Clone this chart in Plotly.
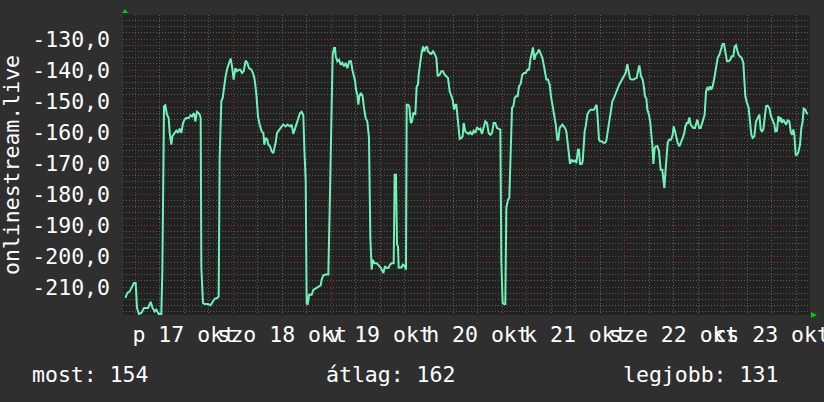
import pandas as pd
import plotly.graph_objects as go

# week of signal readings, hours counted from Fri 17 Oct 00:00
start = pd.Timestamp("2025-10-17 00:00")

hours = [
    -2.44, -1.95, -1.38, -0.97, -0.32, 0.09, 0.42, 0.91, 1.48, 2.13, 3.11, 3.77, 4.18, 4.75, 5.16, 5.73,
    6.38, 6.63, 7.04, 7.36, 7.77, 8.18, 8.43, 8.83, 9.08, 9.65, 10.06, 10.47, 10.88, 11.29, 11.69, 12.10,
    12.51, 13.08, 13.57, 13.90, 14.39, 14.72, 15.13, 15.53, 15.78, 16.03, 16.19, 16.60, 17.01, 17.82, 18.48,
    19.05, 19.46, 20.11, 20.44, 20.68, 21.09, 21.42, 21.75, 22.15, 22.56, 22.97, 23.38, 23.71, 24.12, 24.52,
    24.93, 25.34, 25.75, 26.16, 26.57, 27.06, 27.47, 27.87, 28.45, 28.85, 29.26, 29.67, 30.08, 30.49,
    30.98, 31.39, 31.63, 31.96, 32.37, 32.61, 33.02, 33.43, 33.84, 34.08, 34.41, 34.74, 35.23, 35.72, 36.29,
    36.86, 37.35, 37.92, 38.33, 38.74, 39.15, 39.56, 39.97, 40.38, 40.78, 41.19, 41.44, 41.77, 42.01, 42.26,
    42.58, 43.24, 43.64, 44.22, 44.87, 45.44, 45.69, 46.10, 46.67, 47.32, 47.73, 48.14, 48.38, 48.71, 48.96,
    49.12, 49.53, 49.94, 50.35, 50.75, 51.16, 51.57, 51.98, 52.47, 52.88, 53.21, 53.61, 53.86, 54.10, 54.43,
    54.68, 54.92, 55.33, 55.74, 56.07, 56.47, 56.88, 57.29, 57.62, 57.95, 58.19, 58.60, 59.17, 59.74, 60.23,
    60.81, 61.21, 61.62, 62.03, 62.44, 62.85, 63.26,
    63.34, 63.58, 63.91, 64.16, 64.40, 64.56, 65.22, 65.63, 66.04, 66.36, 66.53, 66.85, 67.18, 67.51, 67.83,
    68.16, 68.65, 68.98, 69.30, 69.47, 69.88, 70.12, 70.53, 70.86, 71.10, 71.51, 71.76, 72.08, 72.57, 72.98,
    73.39, 73.80, 74.13, 74.62, 75.02, 75.43, 75.84, 76.25, 76.66, 77.07, 77.39, 77.80, 78.13, 78.46, 78.70,
    79.03, 79.27, 79.52, 79.93, 80.25, 80.50, 80.91, 81.32, 81.73, 82.13, 82.54, 82.95, 83.36, 83.77, 84.18,
    84.59, 84.99, 85.40, 85.81, 86.22, 86.63, 87.04, 87.45, 87.85, 88.26, 88.67, 89.08, 89.49, 89.73, 90.06,
    90.39, 90.71, 90.96, 91.37, 91.69, 92.02, 92.35, 92.68, 93.00, 93.33, 93.74, 94.06, 94.47, 94.88, 95.29,
    95.70, 96.11, 96.52,
    96.92, 97.50, 97.82, 98.15, 98.56, 98.97, 99.38, 99.79, 100.19, 100.44, 100.77, 101.17, 101.58, 101.91,
    102.24, 102.65, 103.05, 103.46, 103.71, 104.03, 104.36, 104.69, 105.02, 105.34, 105.67, 106.00, 106.32,
    106.57, 106.98, 107.30, 107.71, 108.12, 108.53, 108.77, 109.02, 109.43, 109.67, 109.92, 110.16, 110.41,
    110.82, 111.22, 111.63, 112.04, 112.45, 112.86, 113.10, 113.35, 113.68, 113.92, 114.33, 114.74, 115.15,
    115.47, 115.80, 116.13, 116.54, 116.95, 117.35, 117.76, 118.17, 118.58, 118.99, 119.40, 119.81, 120.21,
    120.62, 120.95, 121.28, 121.69, 122.09, 122.50, 122.91, 123.24, 123.56, 123.97, 124.38, 124.71, 124.95,
    125.28, 125.53, 125.93, 126.26, 126.51, 126.75, 127.00, 127.32, 127.65, 127.98, 128.39, 128.79, 129.20,
    129.45, 129.69, 129.94, 130.18, 130.51, 130.84, 131.33,
    131.73, 131.98, 132.31, 132.55, 132.96, 133.37, 133.78, 134.19, 134.59, 134.84, 135.17, 135.49, 135.82,
    136.15, 136.47, 136.80, 137.21, 137.46, 137.78, 138.03, 138.27, 138.60, 138.93, 139.25, 139.58, 139.91,
    140.23, 140.56, 140.89, 141.21, 141.54, 141.95, 142.36, 142.77, 143.18, 143.58, 143.99, 144.32, 144.56,
    144.81, 145.05, 145.46, 145.87, 146.20, 146.61, 146.93, 147.26, 147.59, 147.91, 148.24, 148.65, 149.06,
    149.30, 149.55, 149.96, 150.37, 150.69, 151.02, 151.35, 151.76, 152.16, 152.57, 152.98, 153.31, 153.63,
    153.96, 154.29, 154.62, 155.02, 155.43, 155.84, 156.25, 156.66, 156.90, 157.31, 157.64, 157.88, 158.21,
    158.54, 158.86, 159.19, 159.52, 159.93, 160.34, 160.66, 160.99, 161.32, 161.56, 161.89, 162.22, 162.54,
    162.95, 163.28, 163.60, 163.85, 164.26, 164.59, 164.91,
]

signal = [
    -213.5, -211.9, -211.4, -210.3, -208.7, -208.7, -216.8, -218.7, -218.4, -216.8, -216.8, -214.8, -216.6, -217.9, -217.3, -218.7,
    -218.7, -205.0, -151.7, -151.4, -154.4, -155.5, -160.3, -164.1, -161.4, -160.3, -159.6, -160.3, -158.9, -160.3, -157.1, -156.0,
    -155.5, -155.5, -154.6, -155.0, -153.9, -156.6, -153.5, -153.9, -154.4, -155.5, -203.9, -215.2, -215.5, -215.5, -215.9,
    -214.6, -213.8, -213.5, -213.0, -168.2, -150.1, -149.0, -145.3, -142.0, -139.4, -137.7, -136.3, -138.8, -143.1, -139.4,
    -140.4, -139.9, -139.9, -141.0, -140.4, -137.0, -137.7, -139.4, -139.9, -141.0, -143.1, -147.7, -155.0, -157.6,
    -159.8, -160.3, -164.1, -161.9, -162.5, -164.1, -164.6, -166.2, -166.8, -165.2, -163.5, -160.3, -159.2, -158.5, -157.6,
    -158.2, -157.6, -158.2, -157.6, -160.6, -158.9, -157.1, -155.5, -153.9, -153.5, -154.6, -165.2, -175.9, -215.2, -215.7,
    -212.5, -212.5, -210.9, -210.5, -210.1, -209.5, -207.6, -206.2, -206.0, -206.0, -179.7, -148.0, -135.1, -132.9, -132.9,
    -135.6, -137.2, -136.7, -138.3, -137.7, -138.8, -137.7, -139.4, -137.2, -137.2, -139.9, -142.6, -143.4, -146.3, -148.0,
    -151.2, -148.5, -147.4, -148.5, -152.3, -155.5, -156.6, -161.9, -194.2, -204.4, -201.2, -202.3, -202.3, -203.3, -203.9,
    -205.5, -203.3, -203.9, -203.9, -202.8, -202.3, -202.3,
    -202.3, -173.8, -173.8, -196.3, -196.9, -203.7, -203.7, -202.8, -203.3, -204.4, -151.2, -151.2, -151.7, -157.1, -156.6,
    -153.9, -154.2, -145.3, -144.7, -141.5, -136.1, -135.1, -132.4, -134.0, -132.9, -132.4, -134.0, -134.5, -134.8, -134.0,
    -134.8, -136.1, -142.0, -141.5, -140.4, -140.4, -141.5, -142.0, -142.6, -146.9, -148.5, -149.6, -152.8, -151.2, -151.2,
    -156.6, -158.9, -162.2, -161.9, -161.4, -157.1, -159.8, -160.3, -160.6, -160.0, -160.9, -159.6, -160.3, -158.5, -159.2,
    -158.9, -160.6, -158.5, -156.6, -157.1, -160.3, -160.9, -160.3, -157.1, -157.1, -158.7, -158.9, -159.2, -201.7, -215.2,
    -215.5, -215.5, -184.5, -181.8, -181.3, -164.1, -152.3, -151.7, -149.0, -148.5, -148.5, -145.3, -144.5, -141.5, -141.0,
    -141.0, -139.9, -139.9,
    -136.1, -132.7, -136.7, -135.1, -134.5, -133.4, -134.5, -136.1, -138.8, -141.5, -143.1, -143.1, -144.7, -148.5,
    -151.2, -154.9, -157.4, -162.5, -162.5, -158.7, -158.2, -157.6, -158.2, -158.7, -159.8, -163.5, -167.3,
    -170.3, -168.9, -169.5, -169.2, -170.0, -165.7, -165.7, -170.3, -170.3, -169.5, -162.5, -159.8, -158.2,
    -154.4, -153.3, -152.8, -152.8, -152.8, -151.7, -151.2, -155.5, -162.5, -163.0, -163.0, -163.5, -163.5,
    -162.8, -159.8, -157.1, -153.9, -150.1, -149.0, -147.4, -146.3, -144.9, -143.9, -142.8, -142.0, -141.0,
    -138.1, -140.4, -142.8, -143.1, -143.1, -142.8, -142.6, -140.4, -138.5, -142.0, -143.1, -145.8, -148.5,
    -149.2, -152.8, -154.4, -157.1, -160.9, -164.1, -170.3, -165.2, -164.6, -164.6, -166.2, -172.2, -172.2,
    -175.9, -178.1, -173.2, -167.3, -163.5, -162.5, -162.5,
    -160.9, -158.2, -159.8, -161.4, -163.5, -164.6, -163.5, -161.9, -160.3, -158.2, -157.1, -157.1, -155.3,
    -157.6, -158.2, -158.7, -158.7, -157.1, -156.0, -157.6, -158.7, -158.7, -157.1, -155.5, -154.4, -146.9,
    -145.8, -146.3, -145.3, -146.3, -145.3, -142.6, -139.4, -136.1, -135.1, -133.4, -131.6, -131.6, -134.0,
    -135.1, -137.2, -137.2, -136.7, -135.6, -135.6, -132.4, -132.0, -133.8, -135.1, -135.6, -136.1, -137.7,
    -142.0, -148.5, -150.6, -152.3, -156.6, -160.9, -161.9, -161.4, -156.6, -155.5, -154.4, -159.2, -159.8,
    -159.2, -154.4, -151.7, -151.5, -152.3, -154.9, -156.6, -157.6, -159.8, -159.6, -154.9, -156.6, -155.3,
    -157.1, -156.0, -156.6, -157.6, -156.3, -156.6, -159.8, -160.9, -159.2, -160.9, -167.3, -167.3, -166.5,
    -164.1, -158.7, -156.6, -152.5, -152.8, -153.9, -154.2,
]

day_labels = ["p 17 okt", "szo 18 okt", "v 19 okt", "h 20 okt", "k 21 okt", "sze 22 okt", "cs 23 okt"]
label_hours = [12, 36, 60, 84, 108, 132, 156]

y_ticks = [-210, -200, -190, -180, -170, -160, -150, -140, -130]
y_tick_text = ["-210,0", "-200,0", "-190,0", "-180,0", "-170,0", "-160,0", "-150,0", "-140,0", "-130,0"]

stat_names = ["most", "átlag", "legjobb"]
stat_values = [154, 162, 131]
stat_x = [-0.1354, 0.293, 0.7245]

times = start + pd.to_timedelta(hours, unit="h")
label_times = start + pd.to_timedelta(label_hours, unit="h")
x_range = [start - pd.Timedelta(hours=3.015), start + pd.Timedelta(hours=165.4)]

FONT = "DejaVu Sans Mono"
FSIZE = 21.5
RED_GRID = "#8a2f2f"
GREY_GRID = "#5e5e5e"

fig = go.Figure()
fig.add_trace(go.Scatter(x=times, y=signal, mode="lines",
                         line=dict(color="#6ff2b8", width=2), hoverinfo="skip"))
# carries the day labels (placed at noon, between the midnight grid lines)
fig.add_trace(go.Scatter(x=label_times, y=[None] * len(label_times), xaxis="x2",
                         mode="markers", hoverinfo="skip"))

tick_font = dict(family=FONT, size=FSIZE, color="#ffffff")

fig.update_layout(
    width=824, height=402,
    margin=dict(l=123, r=14, t=15, b=87),
    paper_bgcolor="#2f2f2f", plot_bgcolor="#222222",
    showlegend=False,
    font=dict(family=FONT, color="#ffffff"),
    xaxis=dict(
        type="date", range=x_range, tick0=start, dtick=86400000,
        showticklabels=False, ticks="", zeroline=False, showline=False,
        showgrid=True, gridcolor=RED_GRID, gridwidth=1, griddash="1px,2px",
        minor=dict(tick0=start, dtick=21600000, showgrid=True,
                   gridcolor=GREY_GRID, gridwidth=1, griddash="1px,2px"),
        automargin=False,
    ),
    xaxis2=dict(
        type="date", overlaying="x", matches="x", anchor="y", side="bottom",
        range=x_range, tickmode="array", tickvals=label_times, ticktext=day_labels,
        tickangle=0, ticks="", showgrid=False, zeroline=False, showline=False,
        tickfont=tick_font, ticklabelstandoff=4, ticklabeloverflow="allow",
        automargin=False,
    ),
    yaxis=dict(
        range=[-219.03, -122.26], tickmode="array", tickvals=y_ticks, ticktext=y_tick_text,
        ticks="", zeroline=False, showline=False,
        showgrid=True, gridcolor=RED_GRID, gridwidth=1, griddash="1px,2px",
        minor=dict(tick0=-130, dtick=2, showgrid=True,
                   gridcolor=GREY_GRID, gridwidth=1, griddash="1px,2px"),
        tickfont=tick_font, ticklabelstandoff=12, automargin=False,
    ),
)

# axis title written sideways at the far left
fig.add_annotation(text="onlinestream.live", xref="paper", yref="paper", x=-0.163, y=0.5,
                   textangle=-90, showarrow=False, xanchor="center", yanchor="middle",
                   font=dict(family=FONT, size=FSIZE, color="#ffffff"))

for name, val, px in zip(stat_names, stat_values, stat_x):
    fig.add_annotation(text=f"{name}: {val}", xref="paper", yref="paper", x=px, y=-0.197,
                       showarrow=False, xanchor="left", yanchor="middle",
                       font=dict(family=FONT, size=FSIZE, color="#ffffff"))

# little green arrow heads at the axis ends
fig.add_shape(type="path", xref="paper", yref="paper", xsizemode="pixel", ysizemode="pixel",
              xanchor=0, yanchor=1, path="M -1,2 L 5,2 L 2,6 Z",
              fillcolor="#00d000", line=dict(width=0))
fig.add_shape(type="path", xref="paper", yref="paper", xsizemode="pixel", ysizemode="pixel",
              xanchor=1, yanchor=0, path="M 1,-3 L 1,3 L 7,0 Z",
              fillcolor="#00d000", line=dict(width=0))

# page default body margin would push the figure off by 8px
fig.write_html("out.html", config={"displayModeBar": False},
               post_script="document.body.style.margin='0';")
